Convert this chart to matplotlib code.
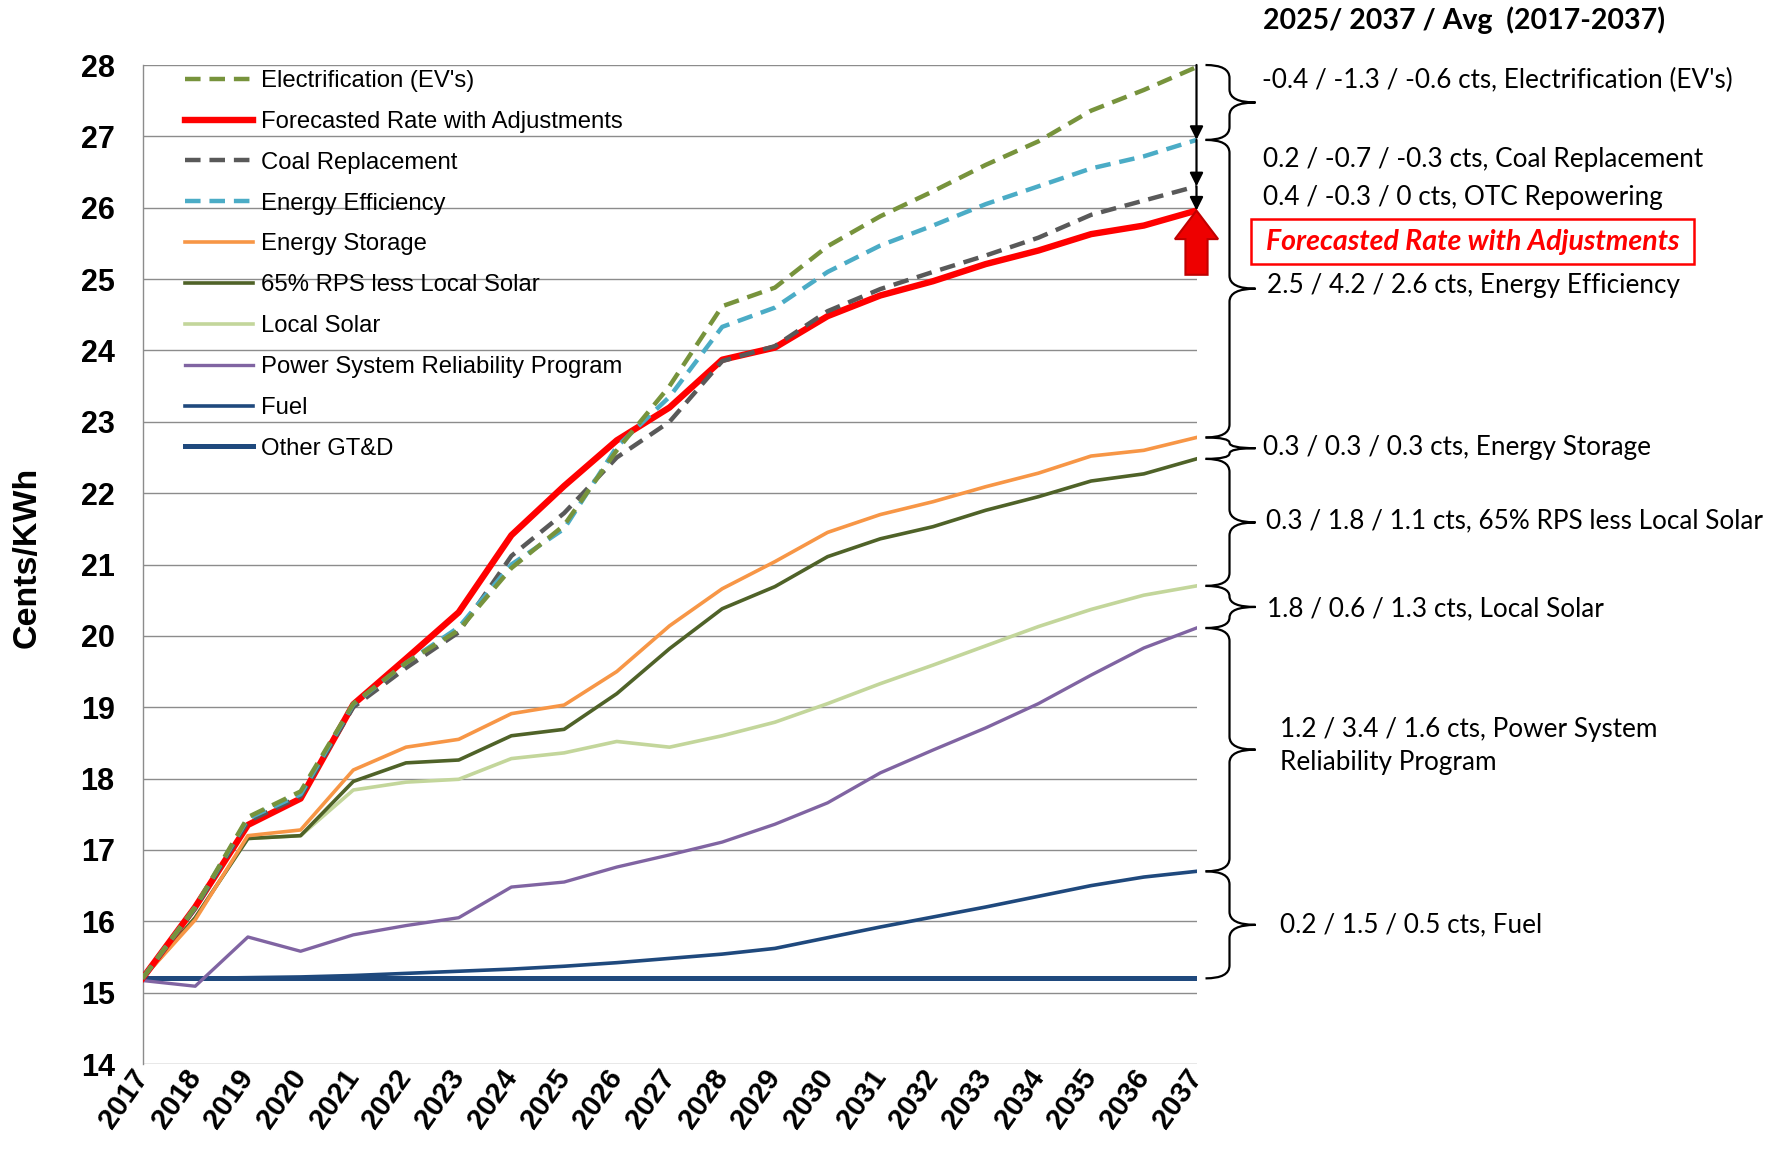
import matplotlib
matplotlib.use("Agg")
import matplotlib.pyplot as plt
from matplotlib.path import Path
from matplotlib.patches import PathPatch, FancyArrow, Rectangle
from matplotlib.transforms import IdentityTransform

# ---------------- data ----------------
years = [2017, 2018, 2019, 2020, 2021, 2022, 2023, 2024, 2025, 2026, 2027,
         2028, 2029, 2030, 2031, 2032, 2033, 2034, 2035, 2036, 2037]

electrification = [15.2, 16.2, 17.46, 17.82, 19.05, 19.62, 20.08, 20.95, 21.55, 22.6, 23.5,
                   24.62, 24.88, 25.46, 25.88, 26.23, 26.6, 26.93, 27.36, 27.65, 27.97]
forecast_adj = [15.2, 16.2, 17.35, 17.72, 19.04, 19.68, 20.33, 21.41, 22.1, 22.74, 23.2,
                23.87, 24.04, 24.48, 24.77, 24.97, 25.21, 25.4, 25.63, 25.75, 25.96]
coal_replacement = [15.2, 16.18, 17.4, 17.75, 19.0, 19.55, 20.05, 21.12, 21.72, 22.5, 23.0,
                    23.85, 24.06, 24.55, 24.86, 25.1, 25.33, 25.58, 25.9, 26.1, 26.3]
energy_efficiency = [15.2, 16.2, 17.44, 17.78, 19.04, 19.62, 20.12, 21.0, 21.5, 22.65, 23.35,
                     24.33, 24.6, 25.1, 25.47, 25.75, 26.05, 26.3, 26.55, 26.72, 26.95]
energy_storage = [15.2, 16.02, 17.2, 17.28, 18.12, 18.44, 18.55, 18.91, 19.03, 19.5, 20.14,
                  20.66, 21.04, 21.45, 21.7, 21.88, 22.09, 22.28, 22.52, 22.6, 22.78]
rps_less_solar = [15.2, 16.05, 17.16, 17.2, 17.96, 18.22, 18.26, 18.6, 18.69, 19.19, 19.82,
                  20.38, 20.69, 21.11, 21.36, 21.53, 21.76, 21.95, 22.17, 22.27, 22.48]
local_solar = [15.2, 16.05, 17.16, 17.2, 17.84, 17.95, 17.99, 18.28, 18.36, 18.52, 18.44,
               18.6, 18.79, 19.05, 19.33, 19.59, 19.86, 20.13, 20.37, 20.57, 20.7]
psrp = [15.17, 15.09, 15.78, 15.58, 15.81, 15.94, 16.05, 16.48, 16.55, 16.76, 16.93,
        17.11, 17.36, 17.66, 18.08, 18.4, 18.71, 19.05, 19.45, 19.83, 20.11]
fuel = [15.2, 15.2, 15.21, 15.22, 15.24, 15.27, 15.3, 15.33, 15.37, 15.42, 15.48,
        15.54, 15.62, 15.77, 15.92, 16.06, 16.2, 16.35, 16.5, 16.62, 16.7]
other_gtd = [15.2, 15.2, 15.2, 15.2, 15.2, 15.2, 15.2, 15.2, 15.2, 15.2, 15.2,
             15.2, 15.2, 15.2, 15.2, 15.2, 15.2, 15.2, 15.2, 15.2, 15.2]

y_ticks = list(range(14, 29))

title_text = "2025/ 2037 / Avg  (2017-2037)"
notes = [
    ("-0.4 / -1.3 / -0.6 cts, Electrification (EV's)", 1262, 80),
    ("0.2 / -0.7 / -0.3 cts, Coal Replacement", 1263, 159),
    ("0.4 / -0.3 / 0 cts, OTC Repowering", 1263, 198),
    ("2.5 / 4.2 / 2.6 cts, Energy Efficiency", 1267, 285),
    ("0.3 / 0.3 / 0.3 cts, Energy Storage", 1263, 448),
    ("0.3 / 1.8 / 1.1 cts, 65% RPS less Local Solar", 1266, 521),
    ("1.8 / 0.6 / 1.3 cts, Local Solar", 1267, 609),
    ("1.2 / 3.4 / 1.6 cts, Power System\nReliability Program", 1280, 746),
    ("0.2 / 1.5 / 0.5 cts, Fuel", 1280, 925),
]

# ---------------- figure ----------------
W, H = 1779, 1152
fig = plt.figure(figsize=(W / 100, H / 100), dpi=100)
fig.patch.set_facecolor("white")
ax = fig.add_axes([142.5 / W, 1 - 1064 / H, 1054 / W, 999 / H])

dash = (3.5, 2.0)
h_other, = ax.plot(years, other_gtd, color="#1F497D", lw=3.6, label="Other GT&D", zorder=3)
h_fuel, = ax.plot(years, fuel, color="#1F497D", lw=2.6, label="Fuel", zorder=3)
h_psrp, = ax.plot(years, psrp, color="#8064A2", lw=2.4, label="Power System Reliability Program", zorder=3)
h_solar, = ax.plot(years, local_solar, color="#C3D69B", lw=2.6, label="Local Solar", zorder=3)
h_rps, = ax.plot(years, rps_less_solar, color="#4F6228", lw=2.6, label="65% RPS less Local Solar", zorder=3)
h_stor, = ax.plot(years, energy_storage, color="#F79646", lw=2.6, label="Energy Storage", zorder=3)
h_red, = ax.plot(years, forecast_adj, color="#FF0000", lw=4.6, label="Forecasted Rate with Adjustments", zorder=4)
h_coal, = ax.plot(years, coal_replacement, color="#595959", lw=3.2, dashes=dash,
                  label="Coal Replacement", zorder=5)
h_ee, = ax.plot(years, energy_efficiency, color="#4BACC6", lw=3.2, dashes=dash,
                label="Energy Efficiency", zorder=6)
h_ev, = ax.plot(years, electrification, color="#77933C", lw=3.2, dashes=dash,
                label="Electrification (EV's)", zorder=7)

ax.set_xlim(years[0], years[-1])
ax.set_ylim(y_ticks[0], y_ticks[-1])
ax.set_yticks(y_ticks)
ax.set_xticks(years)
ax.grid(axis="y", color="#8c8c8c", lw=1.0)
ax.set_axisbelow(True)
for s in ("top", "right", "bottom"):
    ax.spines[s].set_visible(False)
ax.spines["left"].set_color("#8c8c8c")
ax.spines["left"].set_linewidth(1.0)
ax.tick_params(axis="both", length=0)
ax.tick_params(axis="y", pad=20)
ax.tick_params(axis="x", pad=6)
for lab in ax.get_yticklabels():
    lab.set_fontfamily("Liberation Sans")
    lab.set_fontweight("bold")
    lab.set_fontsize(22)
ax.set_xticklabels([str(y) for y in years])
for lab in ax.get_xticklabels():
    lab.set_fontfamily("Liberation Sans")
    lab.set_fontweight("bold")
    lab.set_fontsize(21)
    lab.set_rotation(55)
    lab.set_ha("right")
    lab.set_va("center")
    lab.set_rotation_mode("anchor")

ax.set_ylabel("Cents/KWh", fontfamily="Liberation Sans", fontweight="bold", fontsize=24.5)
ax.yaxis.label.set_va("center")
ax.yaxis.set_label_coords(-0.109, 0.507)

handles = [h_ev, h_red, h_coal, h_ee, h_stor, h_rps, h_solar, h_psrp, h_fuel, h_other]
leg = ax.legend(handles=handles, loc="upper left", bbox_to_anchor=(0.040, 0.995),
                frameon=False, prop={"family": "Liberation Sans", "size": 17.2},
                handlelength=2.85, handletextpad=0.35, labelspacing=0.79,
                borderaxespad=0, borderpad=0)
leg.set_zorder(10)

# ---------------- arrows at 2037 ----------------
x_end = years[-1]
arrow_kw = dict(arrowstyle="-|>", color="black", lw=1.6, mutation_scale=20,
                shrinkA=0, shrinkB=0)
ax.annotate("", xy=(x_end, energy_efficiency[-1]), xytext=(x_end, y_ticks[-1]),
            arrowprops=arrow_kw, annotation_clip=False, zorder=9)
ax.annotate("", xy=(x_end, coal_replacement[-1]), xytext=(x_end, energy_efficiency[-1]),
            arrowprops=arrow_kw, annotation_clip=False, zorder=9)
ax.annotate("", xy=(x_end, forecast_adj[-1]), xytext=(x_end, coal_replacement[-1]),
            arrowprops=arrow_kw, annotation_clip=False, zorder=9)

big = FancyArrow(x_end, forecast_adj[-1] - 0.9, 0, 0.9, width=0.42, head_width=0.82,
                 head_length=0.4, length_includes_head=True, facecolor="#EE0000",
                 edgecolor="#C00000", lw=1.5, clip_on=False, zorder=9)
ax.add_patch(big)

# ---------------- braces ----------------
fig.canvas.draw()


def brace(v_top, v_bot):
    _, yt = ax.transData.transform((x_end, v_top))
    _, yb = ax.transData.transform((x_end, v_bot))
    x_right_axis, _ = ax.transAxes.transform((1.0, 0.0))
    x0 = x_right_axis + 9
    xs = x0 + 24
    xt = xs + 26
    ym = (yt + yb) / 2
    r = min(13.0, (yt - yb) / 4.0)
    verts = [(x0, yt), (xs, yt), (xs, yt - r),
             (xs, ym + r),
             (xs, ym), (xt, ym),
             (xs, ym), (xs, ym - r),
             (xs, yb + r),
             (xs, yb), (x0, yb)]
    codes = [Path.MOVETO, Path.CURVE3, Path.CURVE3,
             Path.LINETO,
             Path.CURVE3, Path.CURVE3,
             Path.CURVE3, Path.CURVE3,
             Path.LINETO,
             Path.CURVE3, Path.CURVE3]
    p = PathPatch(Path(verts, codes), facecolor="none", edgecolor="black", lw=1.6,
                  transform=IdentityTransform(), clip_on=False)
    fig.add_artist(p)


brace(electrification[-1] + 0.03, energy_efficiency[-1])
brace(energy_efficiency[-1], energy_storage[-1])
brace(energy_storage[-1], rps_less_solar[-1])
brace(rps_less_solar[-1], local_solar[-1])
brace(local_solar[-1], psrp[-1])
brace(psrp[-1], fuel[-1])
brace(fuel[-1], other_gtd[-1])

# ---------------- right-hand text ----------------
fig.text(1263 / W, 1 - 20 / H, title_text, fontfamily="Lato", fontweight="bold",
         fontsize=20.5, ha="left", va="center")
for txt, xp, yp in notes:
    fig.text(xp / W, 1 - yp / H, txt, fontfamily="Lato", fontsize=18.8,
             ha="left", va="center", linespacing=1.4)

box = Rectangle((1251 / W, 1 - 264 / H), (1694 - 1251) / W, (264 - 219) / H,
                transform=fig.transFigure, facecolor="white", edgecolor="#FF0000",
                lw=1.8)
fig.add_artist(box)
fig.text((1251 + 1694) / 2 / W, 1 - 242 / H, "Forecasted Rate with Adjustments",
         fontfamily="Lato", fontweight="bold", fontstyle="italic", fontsize=20.5,
         color="#FF0000", ha="center", va="center")

fig.savefig("out.png", dpi=100, facecolor="white")
